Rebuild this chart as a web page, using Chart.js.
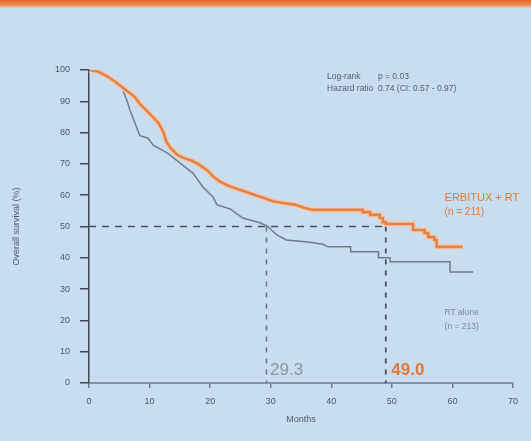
<!DOCTYPE html>
<html>
<head>
<meta charset="utf-8">
<script src="https://cdn.jsdelivr.net/npm/chart.js@4/dist/chart.umd.min.js"></script>
<style>
  html, body { margin: 0; padding: 0; background: #c8ddf0; }
  #wrap { position: relative; width: 531px; height: 441px; overflow: hidden;
          background: #c8ddf0; }
  #band { position: absolute; left: 0; top: 0; width: 531px; height: 8px;
          background: linear-gradient(#e0672a, #ec8a4f 60%, #d9d3d0); }
  canvas { position: absolute; left: 0; top: 0; }
</style>
</head>
<body>
<div id="wrap">
  <div id="band"></div>
  <canvas id="kmChart" width="531" height="441"></canvas>
</div>
<script>
// Kaplan-Meier curves, vertices ---------------------------------------------------
const erbituxMonths   = [0, 1.5, 3, 4.5, 5.5, 6.5, 7.5, 8.5, 9.5, 10.5, 11.5, 12.3, 12.8, 13.5, 14.5, 15.5, 17, 18, 19.5, 20.5, 21.5, 23, 24.5, 26, 27.5, 29, 30.5, 32, 34, 35.5, 37,
                         45.2, 45.2, 46.4, 46.4, 48, 48, 48.5, 48.5, 49, 49, 53.5, 53.5, 55.4, 55.4, 56, 56, 57, 57, 57.4, 57.4, 61.7];
const erbituxSurvival = [100, 99.5, 98, 96, 94.5, 93, 91.5, 89, 87, 85, 83, 80, 77, 75, 73, 72, 71, 70, 68, 66, 64.5, 63, 62, 61, 60, 59, 58, 57.5, 57, 56, 55.3,
                         55.3, 54.6, 54.6, 53.7, 53.7, 52.7, 52.7, 51.4, 51.4, 50.8, 50.8, 48.9, 48.9, 47.9, 47.9, 46.6, 46.6, 45.7, 45.7, 43.5, 43.5];

const rtMonths   = [0, 1.5, 3, 4.5, 5.5, 6.3, 6.8, 7.6, 8.4, 9.7, 10.6, 12.9, 15, 17.2, 18.3, 18.8, 20.5, 21.1, 23.3, 25.4, 28.2, 29.4, 31, 32.6, 36.5, 38.6, 39.5,
                    43.2, 43.2, 47.8, 47.8, 49.7, 49.7, 59.6, 59.6, 63.4];
const rtSurvival = [100, 99.5, 98, 96, 94, 90, 87, 83, 79, 78.3, 76, 73.5, 70.3, 67, 64, 62.6, 59.4, 57, 55.6, 52.7, 51.2, 50.2, 47.3, 45.7, 45, 44.3, 43.5,
                    43.5, 41.9, 41.9, 40, 40, 38.7, 38.7, 35.5, 35.5];

const medianMonths = [29.3, 49.0];
const medianLevel = 50;

const yTicks = [0, 10, 20, 30, 40, 50, 60, 70, 80, 90, 100];
const xTicks = [0, 10, 20, 30, 40, 50, 60, 70];

const toPoints = (xs, ys) => xs.map((x, i) => ({ x: x, y: ys[i] }));

// text drawn in data coordinates
const annotations = [
  { x: 39.3, y: 97.8, text: 'Log-rank', color: '#56616b', font: '8.5px "Liberation Sans"' },
  { x: 47.7, y: 97.8, text: 'p = 0.03', color: '#56616b', font: '8.5px "Liberation Sans"' },
  { x: 39.3, y: 94.0, text: 'Hazard ratio', color: '#56616b', font: '8.5px "Liberation Sans"' },
  { x: 47.7, y: 94.0, text: '0.74 (CI: 0.57 - 0.97)', color: '#56616b', font: '8.5px "Liberation Sans"' },
  { x: 58.7, y: 59.0, text: 'ERBITUX + RT', color: '#e07a38', font: '11px "Liberation Sans"' },
  { x: 58.7, y: 54.6, text: '(n = 211)', color: '#e07a38', font: '10px "Liberation Sans"' },
  { x: 58.7, y: 22.4, text: 'RT alone', color: '#7d8a93', font: '8.5px "Liberation Sans"' },
  { x: 58.7, y: 17.9, text: '(n = 213)', color: '#7d8a93', font: '8.5px "Liberation Sans"' },
  { x: 29.9, y: 4.2, text: '29.3', color: '#8a969e', font: '17px "Liberation Sans"' },
  { x: 49.9, y: 4.2, text: '49.0', color: '#e07a38', font: 'bold 17px "Liberation Sans"' }
];

const textPlugin = {
  id: 'textPlugin',
  afterDatasetsDraw(chart) {
    const ctx = chart.ctx;
    const xs = chart.scales.x, ys = chart.scales.y;
    ctx.save();
    ctx.textAlign = 'left';
    ctx.textBaseline = 'middle';
    annotations.forEach(a => {
      ctx.font = a.font;
      ctx.fillStyle = a.color;
      ctx.fillText(a.text, xs.getPixelForValue(a.x), ys.getPixelForValue(a.y));
    });
    ctx.restore();
  }
};

const kmCtx = document.getElementById('kmChart').getContext('2d');
new Chart(kmCtx, {
    type: 'line',
    data: {
        datasets: [
            {
                label: 'ERBITUX + RT halo',
                data: toPoints(erbituxMonths, erbituxSurvival),
                borderColor: 'rgba(246, 200, 168, 0.95)',
                borderWidth: 5.5,
                pointRadius: 0,
                order: 3
            },
            {
                label: 'ERBITUX + RT',
                data: toPoints(erbituxMonths, erbituxSurvival),
                borderColor: '#e2814a',
                borderWidth: 2.6,
                pointRadius: 0,
                order: 1
            },
            {
                label: 'RT alone',
                data: toPoints(rtMonths, rtSurvival),
                borderColor: '#6f7c85',
                borderWidth: 1.5,
                pointRadius: 0,
                order: 4
            },
            {
                label: 'median line',
                data: [{ x: 0, y: medianLevel }, { x: medianMonths[1], y: medianLevel }],
                borderColor: '#47525c',
                borderWidth: 1.5,
                borderDash: [7, 6],
                pointRadius: 0,
                order: 5
            },
            {
                label: 'RT median',
                data: [{ x: medianMonths[0], y: medianLevel }, { x: medianMonths[0], y: 0 }],
                borderColor: '#6a767f',
                borderWidth: 1.5,
                borderDash: [5, 6],
                pointRadius: 0,
                order: 5
            },
            {
                label: 'ERBITUX median',
                data: [{ x: medianMonths[1], y: medianLevel }, { x: medianMonths[1], y: 0 }],
                borderColor: '#47525c',
                borderWidth: 1.8,
                borderDash: [5, 6],
                pointRadius: 0,
                order: 5
            }
        ]
    },
    options: {
        responsive: false,
        animation: false,
        layout: { padding: { top: 70, right: 18, bottom: 12, left: 6 } },
        plugins: {
            legend: { display: false },
            tooltip: { enabled: false }
        },
        scales: {
            x: {
                type: 'linear',
                min: 0,
                max: 70,
                afterBuildTicks: s => { s.ticks = xTicks.map(v => ({ value: v })); },
                afterFit: s => { s.height = 46; },
                border: { display: true, color: '#8593a0', width: 2 },
                grid: { drawOnChartArea: false, drawTicks: true, tickLength: 5, color: '#6f7c88', lineWidth: 1.5 },
                ticks: { color: '#4f5a63', font: { family: 'Liberation Sans', size: 9 }, padding: 8, maxRotation: 0 },
                title: { display: true, text: 'Months', color: '#4f5a63', font: { family: 'Liberation Sans', size: 9 }, padding: { top: 6 } }
            },
            y: {
                min: 0,
                max: 100,
                afterBuildTicks: s => { s.ticks = yTicks.map(v => ({ value: v })); },
                afterFit: s => { s.width = 83; },
                border: { display: true, color: '#3e4851', width: 1.5 },
                grid: { drawOnChartArea: false, drawTicks: true, tickLength: 9, color: '#3e4851', lineWidth: 1.5 },
                ticks: { color: '#4f5a63', font: { family: 'Liberation Sans', size: 9 }, padding: 10 },
                title: { display: true, text: 'Overall survival (%)', color: '#4f5a63', font: { family: 'Liberation Sans', size: 9 }, padding: { top: 5, bottom: 0 } }
            }
        }
    },
    plugins: [textPlugin]
});
</script>
</body>
</html>
